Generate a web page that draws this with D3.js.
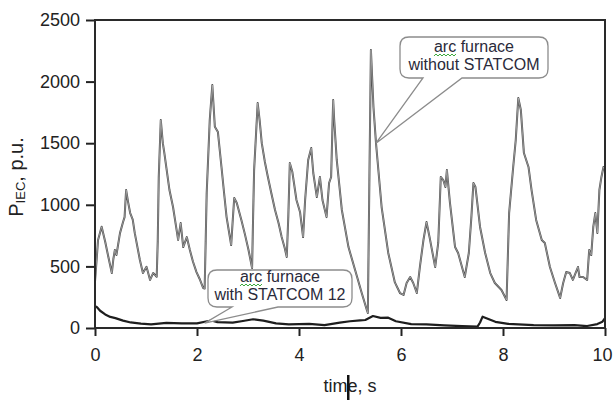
<!DOCTYPE html>
<html>
<head>
<meta charset="utf-8">
<script src="https://cdn.jsdelivr.net/npm/d3@7"></script>
<style>
  body { margin: 0; background: #fff; }
  svg { display: block; font-family: "Liberation Sans", Arial, sans-serif; }
</style>
</head>
<body>
<div id="canvas"></div>
<script>
// DATA
const timeWithout = [0.00,0.04,0.06,0.13,0.20,0.26,0.33,0.36,0.39,0.42,0.49,0.55,0.58,0.61,0.65,0.69,0.74,0.78,0.88,0.94,
  1.01,1.08,1.14,1.18,1.21,1.23,1.25,1.29,1.33,1.36,1.40,1.46,1.53,1.58,1.63,1.68,1.73,1.80,1.86,1.92,1.99,
  2.05,2.12,2.15,2.17,2.19,2.25,2.30,2.35,2.41,2.48,2.53,2.58,2.67,2.70,2.73,2.78,2.87,2.94,
  3.01,3.08,3.10,3.12,3.19,3.23,3.27,3.33,3.39,3.46,3.53,3.60,3.66,3.72,3.76,3.79,3.82,3.87,3.95,
  4.02,4.08,4.12,4.18,4.24,4.28,4.35,4.41,4.46,4.54,4.59,4.63,4.67,4.69,4.74,4.84,4.97,
  5.10,5.23,5.33,5.35,5.38,5.41,5.46,5.51,5.62,5.75,5.88,5.98,
  6.05,6.11,6.18,6.24,6.31,6.37,6.44,6.50,6.56,6.67,6.73,6.78,6.83,6.87,6.90,6.96,
  7.06,7.12,7.25,7.33,7.38,7.42,7.46,7.55,7.65,7.75,7.84,7.97,
  8.07,8.12,8.20,8.25,8.30,8.35,8.41,8.50,8.56,8.65,8.76,8.82,8.92,
  9.02,9.12,9.18,9.24,9.31,9.37,9.43,9.47,9.50,9.57,9.65,9.69,9.73,9.77,9.81,9.85,9.89,9.93,9.97,10.00];
const withoutStatcom = [375,600,715,822,700,580,446,560,633,592,770,860,900,1120,1020,933,880,770,552,446,
  497,390,446,430,416,700,1226,1688,1500,1420,1300,1120,982,850,715,852,657,738,633,540,454,
  400,325,320,700,1095,1688,1972,1633,1590,1307,1100,900,674,870,1055,1015,877,760,
  633,487,900,1282,1826,1680,1500,1350,1226,1090,958,850,738,650,576,900,1340,1266,1039,
  942,738,1039,1364,1461,1258,1063,1226,1039,900,1177,1226,1850,1688,1364,958,657,
  470,284,146,122,1200,2256,1794,1500,982,609,370,284,
  268,365,414,365,284,495,714,860,738,495,690,1226,1201,1144,1282,1015,
  657,609,414,609,900,1177,1144,820,609,446,365,308,
  227,933,1307,1526,1867,1769,1420,1307,1120,877,714,690,495,
  365,244,365,454,446,390,454,495,414,414,390,633,592,820,933,771,1120,1226,1307,1282];

const timeWith = [0.00,0.04,0.10,0.20,0.30,0.40,0.55,0.70,0.90,1.10,1.40,1.70,2.00,2.20,2.30,2.40,2.70,2.90,
  3.10,3.30,3.55,3.80,4.20,4.50,4.80,5.00,5.20,5.30,5.45,5.60,5.75,5.90,6.20,6.50,6.85,
  7.20,7.50,7.55,7.60,7.70,7.85,8.10,8.60,9.00,9.40,9.65,9.85,9.95,10.00];
const withStatcom = [178,168,140,110,90,80,60,45,35,30,42,38,38,55,60,48,43,57,
  71,60,38,30,34,24,43,55,62,65,97,82,84,55,32,30,22,
  16,11,45,92,75,50,34,24,22,24,16,32,51,80];

const xTicks = [0, 2, 4, 6, 8, 10];
const yTicks = [0, 500, 1000, 1500, 2000, 2500];

// DIMENSIONS
const width = 613, height = 401;
const margin = { top: 20, right: 8, bottom: 73, left: 95 };

const svg = d3.select("#canvas").append("svg")
  .attr("width", width).attr("height", height)
  .style("background", "#fff");

// SCALES
const x = d3.scaleLinear().domain([0, 10]).range([margin.left, width - margin.right]);
const y = d3.scaleLinear().domain([0, 2500]).range([height - margin.bottom, margin.top]);

// AXES
const xAxis = svg.append("g")
  .attr("transform", `translate(0,${y(0)})`)
  .call(d3.axisBottom(x).tickValues(xTicks).tickSize(8).tickPadding(12).tickFormat(d3.format("d")));
const yAxis = svg.append("g")
  .attr("transform", `translate(${x(0)},0)`)
  .call(d3.axisLeft(y).tickValues(yTicks).tickSize(9).tickPadding(6).tickFormat(d3.format("d")));

[xAxis, yAxis].forEach(a => {
  a.select(".domain").remove();
  a.selectAll(".tick line").attr("stroke", "#222").attr("stroke-width", 2);
  a.selectAll(".tick text").attr("fill", "#222").style("font-size", "18px")
    .style("font-family", "'Liberation Sans', Arial, sans-serif");
});
// last x label sits against the right edge
xAxis.selectAll(".tick text").filter(d => d === 10).attr("text-anchor", "end").attr("dx", 7);

// LINES
const line = d3.line().x(d => x(d[0])).y(d => y(d[1]));
const mainPts = timeWithout.map((t, i) => [t, withoutStatcom[i]]);
const lowPts = timeWith.map((t, i) => [t, withStatcom[i]]);

svg.append("path").attr("d", line(mainPts))
  .attr("fill", "none").attr("stroke", "#505050").attr("stroke-width", 2)
  .attr("stroke-linejoin", "round");
svg.append("path").attr("d", line(mainPts))
  .attr("fill", "none").attr("stroke", "#c4c4c4").attr("stroke-width", 0.6)
  .attr("stroke-linejoin", "round");
svg.append("path").attr("d", line(lowPts))
  .attr("fill", "none").attr("stroke", "#1e1e1e").attr("stroke-width", 2.2)
  .attr("stroke-linejoin", "round");

// FRAME
svg.append("rect")
  .attr("x", x(0)).attr("y", y(2500))
  .attr("width", x(10) - x(0)).attr("height", y(0) - y(2500))
  .attr("fill", "none").attr("stroke", "#2a2a2a").attr("stroke-width", 2);

// CALLOUTS
function callout(box, base, tip, lines) {
  const r = 9;
  const p = d3.path();
  p.moveTo(box.x0 + r, box.y0);
  p.lineTo(box.x1 - r, box.y0);
  p.quadraticCurveTo(box.x1, box.y0, box.x1, box.y0 + r);
  p.lineTo(box.x1, box.y1 - r);
  p.quadraticCurveTo(box.x1, box.y1, box.x1 - r, box.y1);
  p.lineTo(base[1], box.y1);
  p.lineTo(tip[0], tip[1]);
  p.lineTo(base[0], box.y1);
  p.lineTo(box.x0 + r, box.y1);
  p.quadraticCurveTo(box.x0, box.y1, box.x0, box.y1 - r);
  p.lineTo(box.x0, box.y0 + r);
  p.quadraticCurveTo(box.x0, box.y0, box.x0 + r, box.y0);
  p.closePath();
  svg.append("path").attr("d", p.toString())
    .attr("fill", "#fff").attr("stroke", "#8c8c8c").attr("stroke-width", 1.3);

  const cx = (box.x0 + box.x1) / 2;
  lines.forEach((txt, i) => {
    const t = svg.append("text")
      .attr("x", cx).attr("y", box.baseline + i * 18)
      .attr("text-anchor", "middle")
      .attr("fill", "#2a2a3a").style("font-size", "16px")
      .text(txt);
    if (i === 0) {
      // spell-check squiggle under "arc"
      const node = t.node();
      const sx = node.getStartPositionOfChar(0).x;
      const w = node.getSubStringLength(0, 3);
      const by = box.baseline + i * 18 + 2;
      const pts = [];
      for (let k = 0; k <= Math.round(w / 2); k++) pts.push([sx + k * 2, by + (k % 2 ? 0 : 2)]);
      svg.append("path").attr("d", d3.line()(pts))
        .attr("fill", "none").attr("stroke", "#3aa83a").attr("stroke-width", 1);
    }
  });
}

callout({ x0: 400, y0: 37, x1: 548, y1: 78, baseline: 52 }, [423, 462],
  [x(5.51), y(1500)], ["arc furnace", "without STATCOM"]);
callout({ x0: 208, y0: 270, x1: 352, y1: 307, baseline: 282 }, [232, 278],
  [x(2.15), y(40)], ["arc furnace", "with STATCOM 12"]);

// AXIS TITLES
const yTitle = svg.append("text")
  .attr("transform", `translate(23,${(y(0) + y(2500)) / 2 + 3}) rotate(-90)`)
  .attr("text-anchor", "middle").attr("fill", "#222")
  .style("font-size", "20px");
yTitle.append("tspan").text("P");
yTitle.append("tspan").style("font-size", "13px").attr("dy", 2).text("IEC");
yTitle.append("tspan").attr("dy", -2).text(", p.u.");

svg.append("text")
  .attr("x", (x(0) + x(10)) / 2).attr("y", 392)
  .attr("text-anchor", "middle").attr("fill", "#222")
  .style("font-size", "18px")
  .text("time, s");

// text caret visible in the original capture
svg.append("rect").attr("x", 347).attr("y", 375).attr("width", 2.5).attr("height", 25).attr("fill", "#111");
</script>
</body>
</html>
